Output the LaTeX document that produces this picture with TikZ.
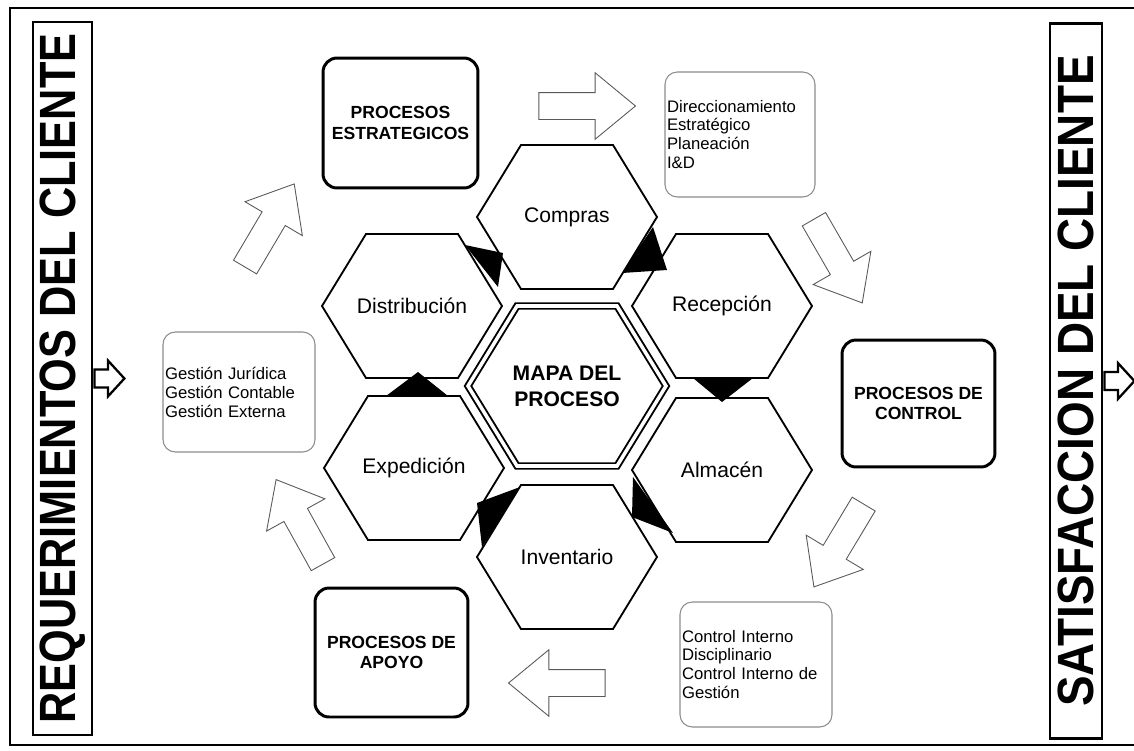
\documentclass[tikz,border=0pt]{standalone}
\usepackage{fontspec}
\setmainfont{Liberation Sans}
\newfontfamily\narrowfont[FakeStretch=0.85]{Liberation Sans}
\newfontfamily\widerfont[FakeStretch=0.9]{Liberation Sans}
\usetikzlibrary{shapes.arrows}

\begin{document}
\begin{tikzpicture}[x=0.02cm,y=-0.02cm]
        \tikzstyle{hex_text} = [font=\fontsize{12}{14}\selectfont]
        \tikzstyle{hex_edge} = [draw=black, line width=1.05pt]
        \tikzstyle{main_box} = [draw=black, line width=1.7pt, rounded corners=8pt, align=center, font=\fontsize{10}{11.5}\selectfont\bfseries]
        \tikzstyle{list_box} = [draw=black!45, line width=0.6pt, rounded corners=7pt, align=left, inner sep=1pt, font=\fontsize{9.5}{10.8}\selectfont]
        \tikzstyle{flow_arrow} = [single arrow, draw=black!65, line width=0.5pt, fill=white, inner xsep=0pt, inner ysep=7.4pt, minimum height=55pt, single arrow head extend=11.3pt, single arrow tip angle=79]
        \tikzstyle{side_box} = [draw=black, line width=1.6pt, rotate=90, inner xsep=2pt]
        \tikzstyle{side_arrow} = [single arrow, draw=black, line width=1.3pt, fill=white, inner xsep=0pt, inner ysep=4.5pt, anchor=tail, minimum height=17pt, single arrow head extend=5pt, single arrow tip angle=95]

        \useasboundingbox (0,0) rectangle (1134,751);
        \draw[line width=1.1pt] (10,8) rectangle (1150,745);

        % client boxes
        \node[side_box, minimum width=14.26cm, minimum height=1.18cm, font=\narrowfont\fontsize{29}{31}\selectfont\bfseries] (req) at (62.5,378.5) {REQUERIMIENTOS DEL CLIENTE};
        \node[side_box, minimum width=14.3cm, minimum height=1.04cm, font=\widerfont\fontsize{29}{31}\selectfont\bfseries] (sat) at (1076,381) {SATISFACCION DEL CLIENTE\hspace{19pt}};
        \node[side_arrow] (req_out) at (req.south) {};
        \node[side_arrow] (sat_out) at (sat.south) {};

        % hexagons
        \node[hex_text] (compras) at (567,217) {Compras};
        \node[hex_text] (recepcion) at (722,306) {Recepción};
        \node[hex_text] (almacen) at (722,470) {Almacén};
        \node[hex_text] (inventario) at (567,557) {Inventario};
        \node[hex_text] (expedicion) at (414,468) {Expedición};
        \node[hex_text] (distribucion) at (412,306) {Distribución};
        \node[align=center, font=\fontsize{12}{14.7}\selectfont\bfseries] (mapa) at (567,386) {MAPA DEL\\PROCESO};

        \foreach \h in {compras,recepcion,almacen,inventario,expedicion,distribucion}
          \draw[hex_edge, shift={(\h.center)}] (-90,0) -- (-46,-72) -- (46,-72) -- (90,0) -- (46,72) -- (-46,72) -- cycle;
        \draw[line width=1.1pt, double, double distance=2pt, shift={(mapa.center)}] (-99,0) -- (-50,-80) -- (50,-80) -- (99,0) -- (50,80) -- (-50,80) -- cycle;

        % flow tips
        \fill[shift={(distribucion.center)}] (53,-61) -- (86,-19) -- (91,-53) -- cycle;
        \fill[shift={(compras.center)}] (86,10) -- (55,56) -- (100,53) -- cycle;
        \fill[shift={(recepcion.center)}] (-29,72) -- (31,72) -- (0,96) -- cycle;
        \fill[shift={(almacen.center)}] (-89,7) -- (-49,63) -- (-90,47) -- cycle;
        \fill[shift={(inventario.center)}] (-47,-70) -- (-85,-10) -- (-90,-54) -- cycle;
        \fill[shift={(expedicion.center)}] (-28,-72) -- (34,-72) -- (4,-96) -- cycle;

        % process boxes
        \node[main_box, minimum width=3.1cm, minimum height=2.6cm] (estrategicos) at (400.5,123) {PROCESOS\\ESTRATEGICOS};
        \node[main_box, minimum width=3.06cm, minimum height=2.54cm] (control) at (918.5,403.5) {PROCESOS DE\\CONTROL};
        \node[main_box, minimum width=3.06cm, minimum height=2.58cm] (apoyo) at (391.5,652.5) {PROCESOS DE\\APOYO};

        \node[list_box, minimum width=3cm, minimum height=2.5cm, text width=2.92cm] (direccion) at (740,134.5) {Direccionamiento\\Estratégico\\Planeación\\I\&D\\[6pt]};
        \node[list_box, minimum width=3.04cm, minimum height=2.4cm, text width=2.96cm] (gestion) at (239,392) {Gestión Jurídica\\Gestión Contable\\Gestión Externa};
        \node[list_box, minimum width=3.04cm, minimum height=2.5cm, text width=2.96cm] (control_int) at (756,664.5) {Control Interno\\Disciplinario\\Control Interno de\\Gestión};

        % block arrows
        \node[flow_arrow] (a1) at (579,106) {};
        \node[flow_arrow, rotate=-60] (a2) at (834,254) {};
        \node[flow_arrow, rotate=-121] (a3) at (843,538.5) {};
        \node[flow_arrow, rotate=180] (a4) at (565,683) {};
        \node[flow_arrow, rotate=119] (a5) at (303.5,529) {};
        \node[flow_arrow, rotate=59.4] (a6) at (265.5,232.5) {};
      \end{tikzpicture}
\end{document}
